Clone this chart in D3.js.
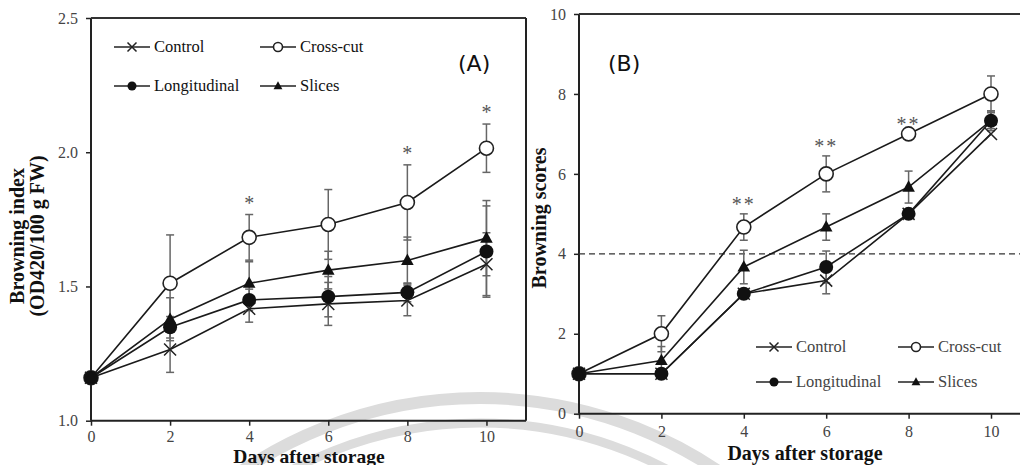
<!DOCTYPE html>
<html><head><meta charset="utf-8">
<script src="https://cdn.jsdelivr.net/npm/d3@7"></script>
<style>body{margin:0;background:#fff}svg{display:block}</style>
</head><body>
<script>
// ---------- DATA ----------
const days = [0, 2, 4, 6, 8, 10];
const seriesNames = ["Control", "Cross-cut", "Longitudinal", "Slices"];
const markerTypes = ["x", "open", "filled", "triangle"];

// Panel A: Browning index (OD420/100 g FW)
const aControl      = [1.16, 1.265, 1.417, 1.435, 1.448, 1.583];
const aCrossCut     = [1.16, 1.512, 1.683, 1.731, 1.813, 2.015];
const aLongitudinal = [1.16, 1.348, 1.450, 1.462, 1.478, 1.630];
const aSlices       = [1.16, 1.378, 1.512, 1.561, 1.597, 1.680];
const aErrControl      = [0.01, 0.085, 0.05, 0.08, 0.057, 0.117];
const aErrCrossCut     = [0.01, 0.18, 0.085, 0.13, 0.14, 0.09];
const aErrLongitudinal = [0.01, 0.04, 0.04, 0.075, 0.035, 0.17];
const aErrSlices       = [0.01, 0.08, 0.08, 0.07, 0.087, 0.14];
const aStarDays  = [4, 8, 10];
const aStarLabel = "*";
const aYTicks = [1.0, 1.5, 2.0, 2.5];

// Panel B: Browning scores
const bControl      = [1, 1, 3, 3.33, 5, 7];
const bCrossCut     = [1, 2, 4.67, 6, 7, 8];
const bLongitudinal = [1, 1, 3, 3.67, 5, 7.33];
const bSlices       = [1, 1.33, 3.67, 4.67, 5.67, 7.33];
const bErrControl      = [0, 0, 0, 0.33, 0, 0];
const bErrCrossCut     = [0, 0.45, 0.33, 0.45, 0, 0.45];
const bErrLongitudinal = [0, 0, 0, 0.4, 0, 0.25];
const bErrSlices       = [0, 0.35, 0.42, 0.33, 0.4, 0.2];
const bStarDays  = [4, 6, 8];
const bStarLabel = "**";
const bYTicks = [0, 2, 4, 6, 8, 10];
const bThreshold = 4;

const xTicks = [0, 2, 4, 6, 8, 10];
const xTitle = "Days after storage";

// ---------- SVG ----------
const W = 1020, H = 465;
const svg = d3.select("body").append("svg").attr("width", W).attr("height", H);
const serif = "'Liberation Serif', 'Times New Roman', serif";

// watermark rings (decoration)
const wm = svg.append("g").attr("fill", "none").attr("stroke", "#dcdcdc");
wm.append("circle").attr("cx", 480).attr("cy", 823).attr("r", 425).attr("stroke-width", 12);
wm.append("circle").attr("cx", 480).attr("cy", 823).attr("r", 400).attr("stroke-width", 9);

function marker(g, type, x, y, s) {
  if (type === "x") {
    g.append("path").attr("d", `M${x-s},${y-s}L${x+s},${y+s}M${x-s},${y+s}L${x+s},${y-s}`)
      .attr("stroke", "#222").attr("stroke-width", 1.5).attr("fill", "none");
  } else if (type === "open") {
    g.append("circle").attr("cx", x).attr("cy", y).attr("r", s)
      .attr("fill", "#fff").attr("stroke", "#222").attr("stroke-width", 1.6);
  } else if (type === "filled") {
    g.append("circle").attr("cx", x).attr("cy", y).attr("r", s).attr("fill", "#111");
  } else {
    const h = s * 1.9;
    g.append("path").attr("d", `M${x},${y-h*0.6}L${x+s*1.05},${y+h*0.4}L${x-s*1.05},${y+h*0.4}Z`).attr("fill", "#111");
  }
}

function panel(cfg) {
  const g = svg.append("g");
  const x = d3.scaleLinear().domain([0, 11]).range(cfg.xr);
  const y = d3.scaleLinear().domain(cfg.yd).range(cfg.yr);

  // axes
  const ya = g.append("g").attr("transform", `translate(${cfg.xr[0]},0)`)
    .call(d3.axisLeft(y).tickValues(cfg.yTicks).tickFormat(cfg.yFmt).tickSize(5).tickPadding(8));
  const xa = g.append("g").attr("transform", `translate(0,${cfg.yr[0]})`)
    .call(d3.axisBottom(x).tickValues(xTicks).tickFormat(d3.format("d")).tickSize(5).tickPadding(cfg.xPad));
  [ya, xa].forEach(a => {
    a.attr("font-family", null);
    a.selectAll("path.domain").attr("stroke", "#222").attr("stroke-width", 2);
    a.selectAll(".tick line").attr("stroke", "#222").attr("stroke-width", 1.5);
    a.selectAll("text").style("font-family", serif).style("font-size", "16px").attr("fill", "#444");
  });
  ya.select("path.domain").attr("d", `M0,${cfg.yr[0]}V${cfg.yr[1]}`);
  xa.select("path.domain").attr("d", `M${cfg.xr[0]},0H${Math.min(cfg.xr[1], W)}`);
  // top border
  g.append("line").attr("x1", cfg.xr[0]).attr("x2", Math.min(cfg.xr[1], W))
    .attr("y1", cfg.yr[1]).attr("y2", cfg.yr[1]).attr("stroke", "#333").attr("stroke-width", 2);
  if (cfg.rightBorder) {
    g.append("line").attr("x1", cfg.xr[1]).attr("x2", cfg.xr[1])
      .attr("y1", cfg.yr[1]).attr("y2", cfg.yr[0]).attr("stroke", "#222").attr("stroke-width", 2);
  }
  if (cfg.threshold !== undefined) {
    g.append("line").attr("x1", cfg.xr[0]).attr("x2", W)
      .attr("y1", y(cfg.threshold)).attr("y2", y(cfg.threshold))
      .attr("stroke", "#333").attr("stroke-width", 1.2).attr("stroke-dasharray", "6,4");
  }

  // lines
  const line = d3.line().x((d, i) => x(days[i])).y(d => y(d));
  cfg.series.forEach(s => {
    g.append("path").datum(s).attr("d", line).attr("fill", "none").attr("stroke", "#1a1a1a").attr("stroke-width", 1.6);
  });
  // error bars
  const eb = g.append("g").attr("stroke", "#666").attr("stroke-width", 1.5);
  cfg.series.forEach((s, k) => {
    s.forEach((v, i) => {
      const e = cfg.errs[k][i];
      if (e <= 0.02) return;
      const cx = x(days[i]), t = y(v + e), b = y(v - e);
      eb.append("line").attr("x1", cx).attr("x2", cx).attr("y1", t).attr("y2", b);
      eb.append("line").attr("x1", cx - 4).attr("x2", cx + 4).attr("y1", t).attr("y2", t);
      eb.append("line").attr("x1", cx - 4).attr("x2", cx + 4).attr("y1", b).attr("y2", b);
    });
  });
  // markers
  cfg.series.forEach((s, k) => {
    s.forEach((v, i) => marker(g, markerTypes[k], x(days[i]), y(v), k === 0 ? 6 : (k === 3 ? 6 : 7)));
  });
  // stars
  cfg.stars.forEach(d => {
    const i = days.indexOf(d);
    const k = 1;
    const top = y(cfg.series[k][i] + cfg.errs[k][i]);
    g.append("text").attr("x", x(d)).attr("y", top - cfg.starGap).attr("text-anchor", "middle")
      .style("font-family", serif).style("font-size", "20px").style("letter-spacing", cfg.starSpacing)
      .attr("fill", "#555").text(cfg.starLabel);
  });

  // legend
  const lg = g.append("g");
  seriesNames.forEach((n, k) => {
    const col = k % 2, row = Math.floor(k / 2);
    const lx = cfg.leg.x[col], ly = cfg.leg.y[row];
    lg.append("line").attr("x1", lx).attr("x2", lx + cfg.leg.len).attr("y1", ly).attr("y2", ly)
      .attr("stroke", "#222").attr("stroke-width", 1.6);
    marker(lg, markerTypes[k], lx + cfg.leg.len / 2, ly, k === 3 ? 4.2 : 4.5);
    lg.append("text").attr("x", lx + cfg.leg.len + 4).attr("y", ly).attr("dy", "0.33em")
      .style("font-family", serif).style("font-size", "16.5px").attr("fill", cfg.leg.color).text(n);
  });

  // panel label
  g.append("text").attr("x", cfg.label.x).attr("y", cfg.label.y)
    .style("font-family", "'DejaVu Sans', sans-serif").style("font-size", "22px").attr("fill", "#111").text(cfg.label.t);

  // axis titles
  const yt = g.append("text").attr("transform", `translate(${cfg.yTitle.x},${cfg.yTitle.y}) rotate(-90)`)
    .attr("text-anchor", "middle").style("font-family", serif).style("font-weight", "bold")
    .style("font-size", "20px").attr("fill", "#111");
  cfg.yTitle.lines.forEach((t, i) => yt.append("tspan").attr("x", 0).attr("dy", i === 0 ? 0 : 20).text(t));
  g.append("text").attr("x", cfg.xTitle.x).attr("y", cfg.xTitle.y).attr("text-anchor", "middle")
    .style("font-family", serif).style("font-weight", "bold").style("font-size", cfg.xTitle.size).attr("fill", "#111").text(xTitle);
}

panel({
  xr: [91, 526], yd: [1.0, 2.5], yr: [420.7, 18], yTicks: aYTicks, yFmt: d3.format(".1f"),
  rightBorder: true, xPad: 5,
  series: [aControl, aCrossCut, aLongitudinal, aSlices],
  errs: [aErrControl, aErrCrossCut, aErrLongitudinal, aErrSlices],
  stars: aStarDays, starLabel: aStarLabel, starGap: 5, starSpacing: "0px",
  leg: { x: [114, 260], y: [47, 86], len: 36, color: "#111" },
  label: { x: 458, y: 71, t: "(A)" },
  yTitle: { x: 24, y: 236, lines: ["Browning index", "(OD420/100 g FW)"] },
  xTitle: { x: 309, y: 463, size: "19.5px" }
});

panel({
  xr: [579, 1032.2], yd: [0, 10], yr: [413.7, 14], yTicks: bYTicks, yFmt: d3.format("d"),
  rightBorder: false, threshold: bThreshold, xPad: 7,
  series: [bControl, bCrossCut, bLongitudinal, bSlices],
  errs: [bErrControl, bErrCrossCut, bErrLongitudinal, bErrSlices],
  stars: bStarDays, starLabel: bStarLabel, starGap: 3, starSpacing: "2px",
  leg: { x: [756, 898], y: [347, 382], len: 36, color: "#444" },
  label: { x: 608, y: 71, t: "(B)" },
  yTitle: { x: 546, y: 218, lines: ["Browning scores"] },
  xTitle: { x: 805, y: 460, size: "20px" }
});
</script>
</body></html>
